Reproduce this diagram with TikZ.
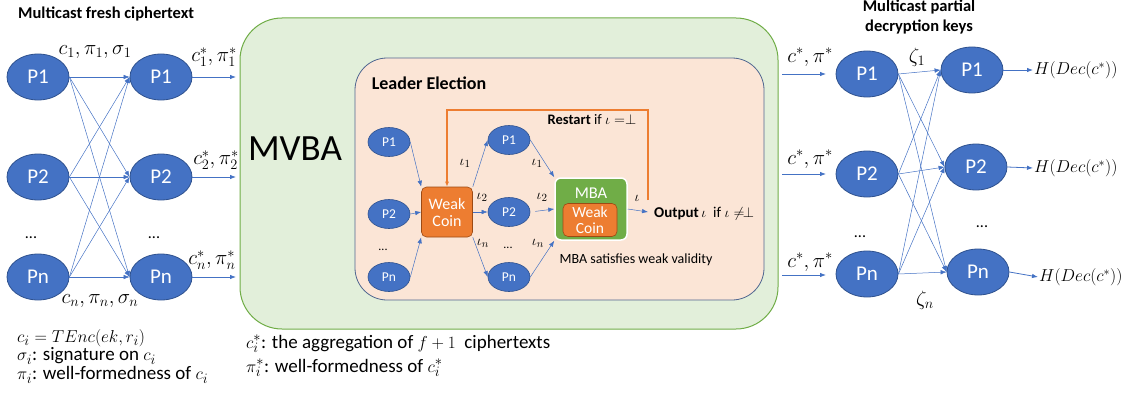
\documentclass[tikz,border=0pt]{standalone}
\usepackage{fontspec}
\setmainfont{Carlito}
\usetikzlibrary{arrows.meta,shapes.geometric}
\definecolor{pblue}{HTML}{4472C4}
\definecolor{pblueedge}{HTML}{2F528F}
\definecolor{worange}{HTML}{ED7D31}
\definecolor{worangeedge}{HTML}{9C4A14}
\definecolor{mgreen}{HTML}{70AD47}
\definecolor{mvbafill}{HTML}{E2EFDA}
\definecolor{lefill}{HTML}{FBE5D6}
\definecolor{leedge}{HTML}{4F6690}
\newcommand{\fsz}[2]{\fontsize{#1}{#2}\selectfont}
\tikzset{
  bigP/.style={ellipse, fill=pblue, draw=pblueedge, line width=0.8pt,
    minimum width=62pt, minimum height=46pt, inner sep=0pt, text=white, font=\fsz{21}{24}},
  smallP/.style={ellipse, fill=pblue, draw=pblueedge, line width=0.6pt,
    minimum width=42pt, minimum height=29pt, inner sep=0pt, text=white, font=\fsz{13.5}{15}},
  flow/.style={draw=pblue, line width=0.8pt, -{Latex[length=6pt,width=4.5pt]}},
  cross/.style={draw=pblue, line width=0.5pt, -{Latex[length=6pt,width=4.5pt]}},
  coin/.style={rectangle, rounded corners=5pt, fill=worange, draw=worangeedge, line width=0.6pt,
    align=center, text=white, inner sep=0pt},
  lbl/.style={inner sep=0pt, font=\fsz{19.5}{22}},
  small/.style={inner sep=0pt, font=\fsz{15}{17}},
  dots/.style={inner sep=0pt, font=\fsz{16}{18}},
  note/.style={inner sep=0pt, anchor=west, font=\fsz{19}{22}},
  head/.style={inner sep=0pt, font=\bfseries\fsz{16.5}{20}, align=center},
}
\begin{document}
\begin{tikzpicture}[x=1pt,y=-1pt]
\useasboundingbox (0,0) rectangle (1129,396);

% MVBA container and the leader election panel
\draw[draw=mgreen, fill=mvbafill, line width=1pt, rounded corners=42pt] (240,18) rectangle (778,329);
\draw[draw=leedge, fill=lefill, line width=0.8pt, rounded corners=32pt] (355,58) rectangle (764,300);
\node[inner sep=0pt, font=\fsz{37}{40}] (mvba) at (295,149) {MVBA};
\node[inner sep=0pt, font=\bfseries\fsz{18}{20}] (letitle) at (429,83) {Leader Election};

% fresh ciphertext round
\node[head, anchor=west] (headL) at (18,14) {Multicast fresh ciphertext};
\foreach \i/\y/\t in {1/77/P1, 2/177/P2, n/277/Pn} {
  \node[bigP] (a\i) at (38,\y) {\t};
  \node[bigP] (b\i) at (161,\y) {\t};
}
\foreach \i in {1,2,n} \foreach \j in {1,2,n}
  \draw[cross] (a\i.east) -- (b\j.west);
\node[dots] (dotsA) at (31,238) {...};
\node[dots] (dotsB) at (154,238) {...};
\node[lbl] (lab1) at (95,52) {$c_1,\pi_1,\sigma_1$};
\node[lbl] (labn) at (100,301) {$c_n,\pi_n,\sigma_n$};

% aggregated ciphertexts into MVBA
\coordinate (m1) at (236,77);
\coordinate (m2) at (236,177);
\coordinate (mn) at (236,277);
\draw[flow] (b1.east) -- (m1);
\draw[flow] (b2.east) -- (m2);
\draw[flow] (bn.east) -- (mn);
\node[lbl] (s1) at (214,57) {$c_1^*,\pi_1^*$};
\node[lbl] (s2) at (216,160) {$c_2^*,\pi_2^*$};
\node[lbl] (sn) at (212,260) {$c_n^*,\pi_n^*$};

% leader election internals
\foreach \i/\y/\t in {1/142/P1, 2/214/P2, n/277/Pn}
  \node[smallP] (l\i) at (389,\y) {\t};
\foreach \i/\y/\t in {1/140/P1, 2/212/P2, n/277/Pn}
  \node[smallP] (k\i) at (509,\y) {\t};
\node[inner sep=0pt, font=\fsz{12}{13}] (dotsC) at (383,250) {...};
\node[inner sep=0pt, font=\fsz{12}{13}] (dotsD) at (508,248) {...};
\node[coin, minimum width=51pt, minimum height=50pt, font=\fsz{16}{17}] (wc) at (447,212) {Weak\\Coin};

\node[rectangle, rounded corners=6pt, fill=mgreen, draw=white, line width=1.5pt,
  minimum width=72pt, minimum height=62pt] (mba) at (591,209) {};
\node[inner sep=0pt, text=white, font=\fsz{16.5}{18}] (mbalbl) at (591,193) {MBA};
\node[coin, minimum width=54pt, minimum height=33pt, font=\fsz{15.5}{16}] (mbacoin) at (590,220) {Weak\\Coin};

\draw[cross] (l1.east) -- (wc.north west);
\draw[cross] (l2.east) -- (wc.west);
\draw[cross] (ln.east) -- (wc.south west);
\draw[cross] (wc.north east) -- (k1.west);
\draw[cross] (wc.east) -- (k2.west);
\draw[cross] (wc.south east) -- (kn.west);
\draw[cross] (k1.east) -- (mba.north west);
\draw[cross, shorten <=5pt] (k2.east) -- (mba.west);
\draw[cross] (kn.east) -- (mba.south west);

\node[small] (i1a) at (465,163) {$\iota_1$};
\node[small] (i2a) at (482,197) {$\iota_2$};
\node[small] (ina) at (483,243) {$\iota_n$};
\node[small] (i1b) at (537,163) {$\iota_1$};
\node[small] (i2b) at (542,197) {$\iota_2$};
\node[small] (inb) at (538,243) {$\iota_n$};

% output and restart loop
\coordinate (outend) at (648,212);
\draw[cross] (mba.east) -- (outend);
\node[small] (iout) at (637,198) {$\iota$};
\node[inner sep=0pt, anchor=west, font=\fsz{15}{17}] (outtxt) at (654,214)
  {\textbf{Output}\,$\iota$\ \ if $\iota\neq\mkern-2mu\perp$};
\coordinate (loopstart) at (648,200);
\coordinate (looptop) at (447,110);
\draw[worange, line width=1.5pt, -{Latex[length=5pt,width=4pt]}]
  (loopstart) |- (looptop) -- (wc.north);
\node[inner sep=0pt, font=\fsz{14.5}{16}] (restart) at (592,120) {\textbf{Restart} if $\iota=\perp$};
\node[inner sep=0pt, font=\fsz{14}{16}] (weakv) at (636,260) {MBA satisfies weak validity};

% partial decryption round
\node[head] (headR) at (919,17) {Multicast partial\\decryption keys};
\foreach \i/\y/\t in {1/74/P1, 2/174/P2, n/274/Pn}
  \node[bigP] (c\i) at (867,\y) {\t};
\node[bigP] (d1) at (972,70) {P1};
\node[bigP] (d2) at (976,167) {P2};
\node[bigP] (dn) at (978,272) {Pn};
\foreach \i in {1,2,n} \foreach \j in {1,2,n}
  \draw[cross] (c\i.east) -- (d\j.west);
\node[dots] (dotsE) at (860,237) {...};
\node[dots] (dotsF) at (982,227) {...};
\node[lbl] (z1) at (917,57) {$\zeta_1$};
\node[lbl] (zn) at (925,300) {$\zeta_n$};

\foreach \i/\y/\ly in {1/74/57, 2/174/159, n/275/262} {
  \coordinate (ra\i) at (782,\y);
  \coordinate (rb\i) at (826,\y);
  \draw[flow] (ra\i) -- (rb\i);
  \node[lbl] (cs\i) at (810,\ly) {$c^*,\pi^*$};
}

\node[inner sep=1pt, anchor=west, font=\fsz{16.5}{18}] (h1) at (1033,70) {$H(Dec(c^*))$};
\node[inner sep=1pt, anchor=west, font=\fsz{16.5}{18}] (h2) at (1033,168) {$H(Dec(c^*))$};
\node[inner sep=1pt, anchor=west, font=\fsz{16.5}{18}] (hn) at (1038,277) {$H(Dec(c^*))$};
\draw[flow] (d1.east) -- (h1.west);
\draw[flow] (d2.east) -- (h2.west);
\draw[flow] (dn.east) -- (hn.west);

% definitions
\node[note] (def1) at (17,338) {$c_i = TEnc(ek,r_i)$};
\node[note] (def2) at (17,356) {$\sigma_i$: signature on $c_i$};
\node[note] (def3) at (17,375) {$\pi_i$: well-formedness of $c_i$};
\node[note] (def4) at (246,344) {$c_i^*$: the aggregation of $f+1$\ \ ciphertexts};
\node[note] (def5) at (246,368) {$\pi_i^*$: well-formedness of $c_i^*$};
\end{tikzpicture}
\end{document}
